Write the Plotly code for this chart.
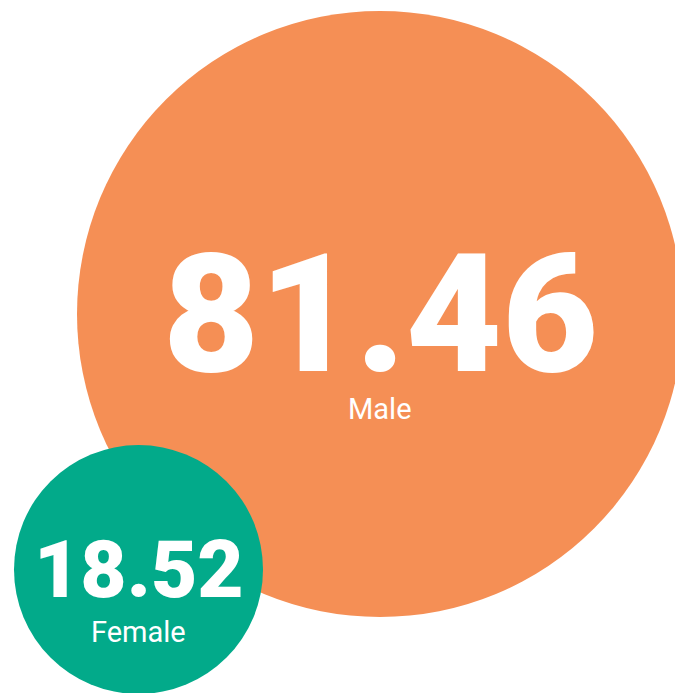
import plotly.graph_objects as go

# data
labels = ["Male", "Female"]
values = [81.46, 18.52]
colors = ["#F58F55", "#02AA8A"]

# layout of the packed bubbles (pixel space), and bubble diameter range
W, H = 675, 693
centers = {"Male": (380, 314), "Female": (138.5, 569.5)}
D_MIN, D_MAX = 249, 606

vmin, vmax = min(values), max(values)
sizes = [D_MIN + (v - vmin) / (vmax - vmin) * (D_MAX - D_MIN) for v in values]

num_size = {"Male": 166, "Female": 80}
lab_shift = {"Male": -76, "Female": -43}

fig = go.Figure()
for lab, val, col, s in zip(labels, values, colors, sizes):
    cx, cy = centers[lab]
    fig.add_trace(go.Scatter(
        x=[cx], y=[cy], mode="markers",
        marker=dict(size=s, color=col, line=dict(width=0), opacity=1),
        hoverinfo="skip", showlegend=False,
    ))
    fig.add_annotation(
        x=cx, y=cy, text=f"{val:.2f}", showarrow=False,
        xanchor="center", yanchor="middle",
        font=dict(family="Roboto", size=num_size[lab], color="white", weight=900),
    )
    fig.add_annotation(
        x=cx, y=cy, text=lab, showarrow=False,
        xanchor="center", yanchor="top", yshift=lab_shift[lab],
        font=dict(family="Roboto", size=29, color="white"),
    )

fig.update_layout(
    width=W, height=H,
    margin=dict(l=0, r=0, t=0, b=0),
    paper_bgcolor="white", plot_bgcolor="white",
    xaxis=dict(range=[0, W], visible=False, fixedrange=True),
    yaxis=dict(range=[H, 0], visible=False, fixedrange=True),
)

fig.write_html("out.html", config={"displayModeBar": False},
               post_script="document.body.style.margin='0';document.body.style.overflow='hidden';")
